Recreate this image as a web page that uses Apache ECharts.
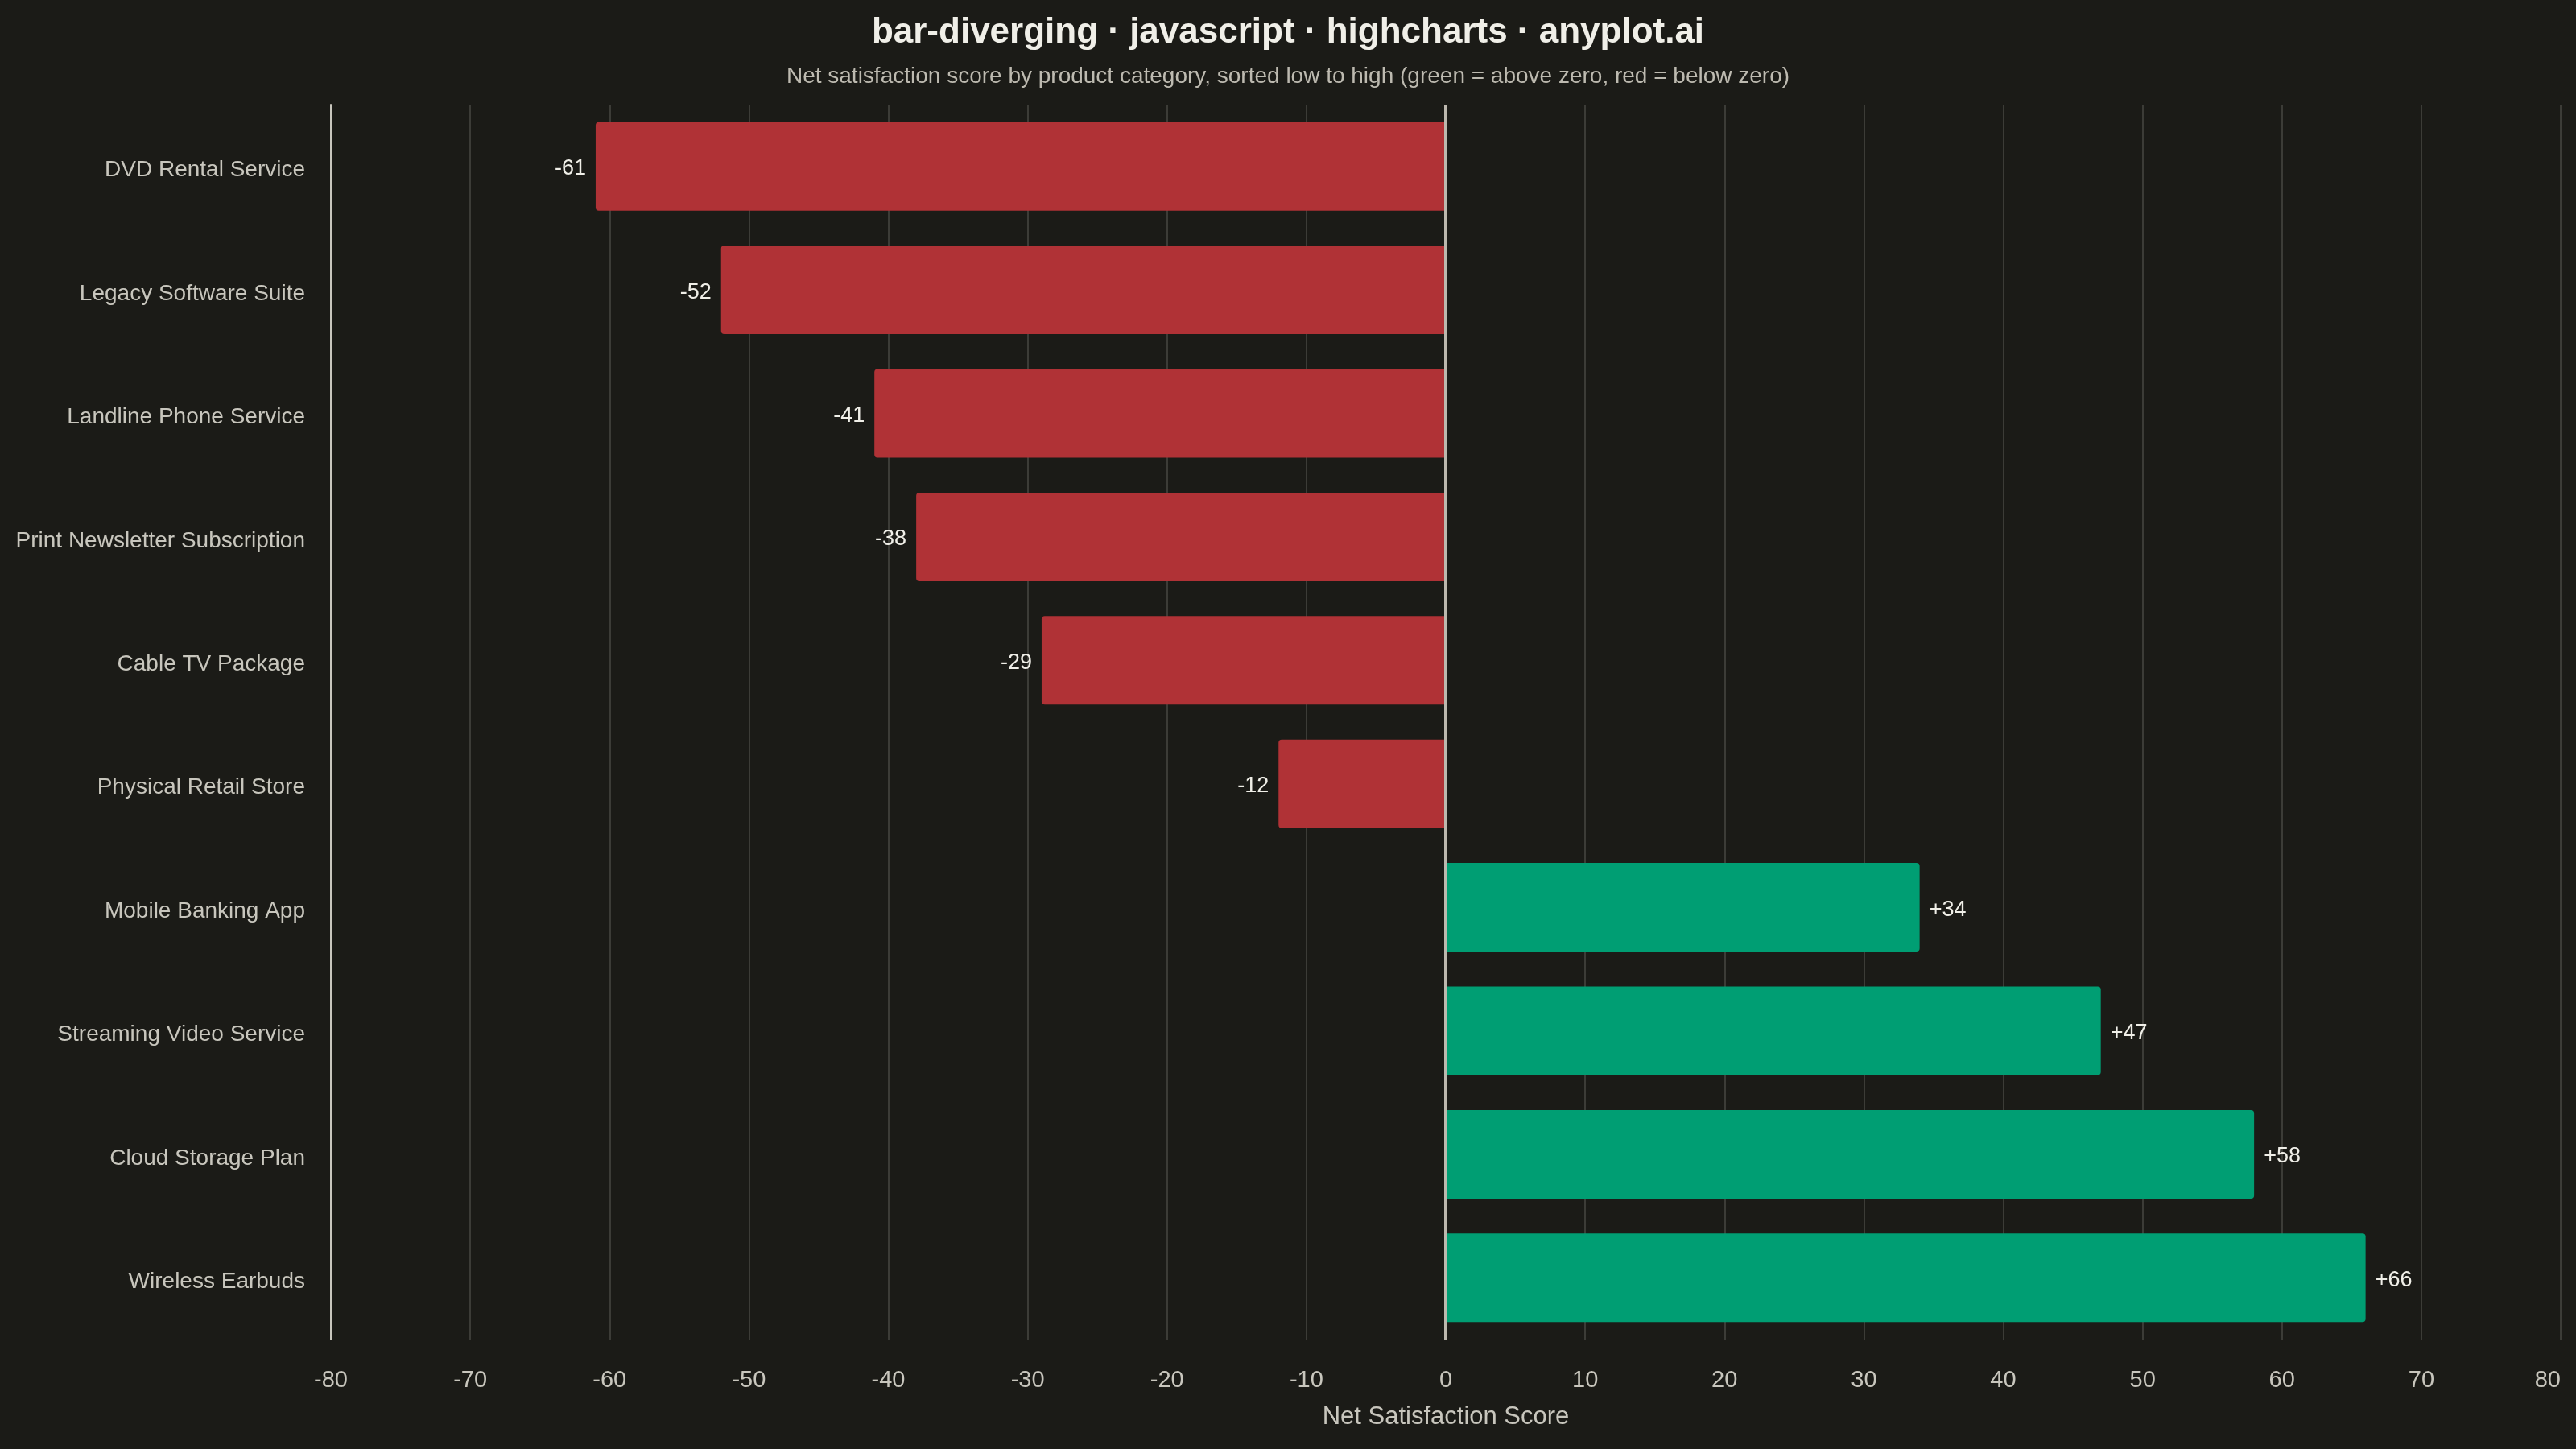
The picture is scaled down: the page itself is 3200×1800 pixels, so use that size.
<!DOCTYPE html>
<html>
<head>
<meta charset="utf-8">
<script src="https://cdn.jsdelivr.net/npm/echarts@6/dist/echarts.min.js"></script>
<style>
html,body{margin:0;padding:0;background:#1b1b17;}
#c{width:3200px;height:1800px;}
</style>
</head>
<body>
<div id="c"></div>
<script>
const categories = [
  'DVD Rental Service',
  'Legacy Software Suite',
  'Landline Phone Service',
  'Print Newsletter Subscription',
  'Cable TV Package',
  'Physical Retail Store',
  'Mobile Banking App',
  'Streaming Video Service',
  'Cloud Storage Plan',
  'Wireless Earbuds'
];
const scores = [-61, -52, -41, -38, -29, -12, 34, 47, 58, 66];
const axisMin = -80;
const axisMax = 80;
const axisStep = 10;

const RED = '#b03236';
const GREEN = '#009e73';
const FONT = 'Liberation Sans, Arial, sans-serif';

const chart = echarts.init(document.getElementById('c'));
chart.setOption({
  backgroundColor: '#1b1b17',
  animation: false,
  title: [{
    text: 'bar-diverging · javascript · highcharts · anyplot.ai',
    left: 'center',
    top: 14,
    textStyle: {color: '#f0efe8', fontSize: 44, fontWeight: 'bold', fontFamily: FONT}
  }, {
    text: 'Net satisfaction score by product category, sorted low to high (green = above zero, red = below zero)',
    left: 'center',
    top: 76,
    textStyle: {color: '#bdbab0', fontSize: 28, fontWeight: 'normal', fontFamily: FONT}
  }],
  grid: {left: 411, right: 19, top: 130, bottom: 136, containLabel: false},
  xAxis: {
    type: 'value',
    min: axisMin,
    max: axisMax,
    interval: axisStep,
    name: 'Net Satisfaction Score',
    nameLocation: 'middle',
    nameGap: 81,
    nameTextStyle: {color: '#c8c6bd', fontSize: 31, fontFamily: FONT},
    axisLine: {show: false},
    axisTick: {show: false},
    axisLabel: {color: '#c8c6bd', fontSize: 29, margin: 36, fontFamily: FONT, alignMaxLabel: 'right'},
    splitLine: {show: true, lineStyle: {color: '#3c3c37', width: 2}}
  },
  yAxis: {
    type: 'category',
    data: categories,
    inverse: true,
    axisLine: {show: true, onZero: false, lineStyle: {color: '#c8c6bd', width: 2}},
    axisTick: {show: false},
    axisLabel: {
      color: '#c8c6bd', fontSize: 28, margin: 32, fontFamily: FONT,
      formatter: v => '{a|' + v + '}',
      rich: {a: {color: '#c8c6bd', fontSize: 28, fontFamily: FONT, padding: [10, 0, 0, 0]}}
    },
    splitLine: {show: false}
  },
  series: [{
    type: 'bar',
    barCategoryGap: '28.3%',
    data: scores.map(v => ({
      value: v,
      itemStyle: {
        color: v < 0 ? RED : GREEN,
        borderRadius: v < 0 ? [4, 0, 0, 4] : [0, 4, 4, 0]
      },
      label: {position: v < 0 ? 'left' : 'right'}
    })),
    label: {
      show: true,
      distance: 12,
      offset: [0, 3],
      color: '#f0efe8',
      fontSize: 27,
      fontFamily: FONT,
      formatter: p => (p.value > 0 ? '+' : '') + p.value
    },
    markLine: {
      silent: true,
      symbol: 'none',
      label: {show: false},
      lineStyle: {color: '#bcb8ae', width: 4, type: 'solid'},
      data: [{xAxis: 0}]
    }
  }]
});
</script>
</body>
</html>
